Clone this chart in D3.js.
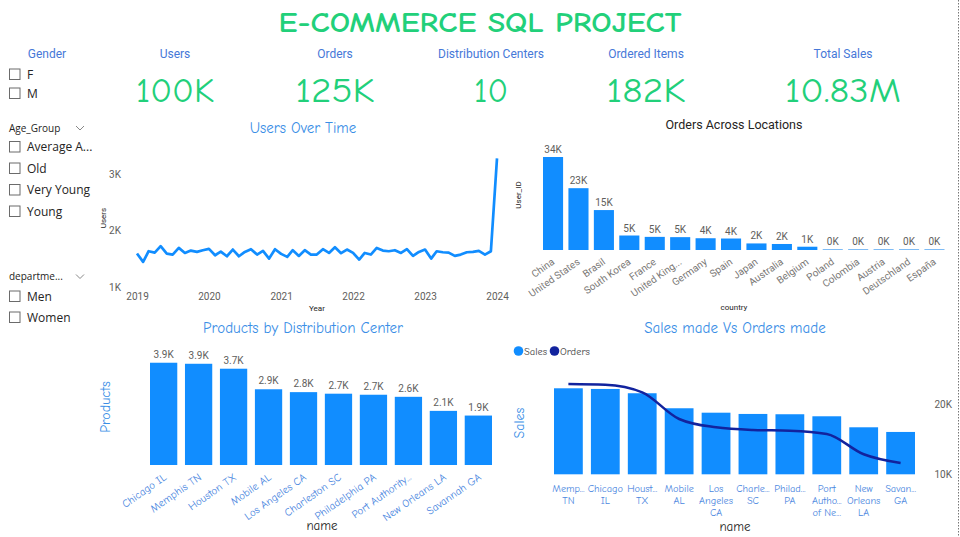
<!DOCTYPE html>
<html><head><meta charset="utf-8">
<script src="https://cdn.jsdelivr.net/npm/d3@7"></script>
<style>body{margin:0;background:#fff;} svg{display:block;font-family:"Open Sans","Noto Sans",sans-serif;}</style>
</head><body><svg id="c" width="960" height="537"></svg>
<script>
// ---------- DATA ----------
const titleText = "E-COMMERCE SQL PROJECT";
const kpiLabels = ["Users","Orders","Distribution Centers","Ordered Items","Total Sales"];
const kpiValues = ["100K","125K","10","182K","10.83M"];
const genderItems = ["F","M"];
const ageItems = ["Average A...","Old","Very Young","Young"];
const deptItems = ["Men","Women"];

const userStart = "2019-01";
const userCounts = [1592,1444,1633,1609,1722,1592,1574,1692,1603,1645,1621,1651,
  1675,1562,1627,1544,1663,1544,1621,1669,1574,1639,1503,1669,
  1586,1533,1651,1550,1651,1574,1574,1669,1603,1704,1598,1663,
  1603,1485,1603,1574,1692,1645,1633,1651,1603,1669,1550,1621,
  1663,1503,1633,1615,1609,1550,1574,1615,1621,1639,1574,1633,
  3278];
const userYears = [2019,2020,2021,2022,2023,2024];
const userTicks = [1000,2000,3000];

const countries = ["China","United States","Brasil","South Korea","France","United King...","Germany","Spain","Japan","Australia","Belgium","Poland","Colombia","Austria","Deutschland","España"];
const countryOrders = [34000,22600,14600,5300,4800,4700,4300,4200,2400,2200,1200,200,150,120,100,80];

const centers = ["Chicago IL","Memphis TN","Houston TX","Mobile AL","Los Angeles CA","Charleston SC","Philadelphia PA","Port Authority...","New Orleans LA","Savannah GA"];
const centerProducts = [3930,3890,3700,2910,2800,2740,2700,2620,2080,1900];

const salesCenters = [["Memp...","TN"],["Chicago","IL"],["Houst...","TX"],["Mobile","AL"],["Los","Angeles","CA"],["Charle...","SC"],["Philad...","PA"],["Port","Autho...","of Ne..."],["New","Orleans","LA"],["Savan...","GA"]];
const centerSales = [1438000,1427000,1355000,1104000,1030000,1009000,1004000,970000,786000,708000];
const centerOrders = [22900,22800,21710,17900,16710,16330,16230,15760,12860,11610];
const orderTicks = [10000,20000];

// ---------- STYLE ----------
const BLUE = "#118DFF", NAVY = "#12239E", GREEN = "#22d07a";
const LBLUE = "#4678d8", TBLUE = "#3a8ee6", GREY = "#605e5c", DARK = "#252423";
const COMIC = '"Comic Sans MS","Comic Neue","Noto Sans",sans-serif';
const DIN = '"Roboto","Open Sans",sans-serif';

const svg = d3.select("#c");
svg.append("rect").attr("width",960).attr("height",537).attr("fill","#fff");
svg.append("line").attr("x1",958.5).attr("x2",958.5).attr("y1",0).attr("y2",537)
  .attr("stroke","#777").attr("stroke-dasharray","1.5,1.5");

// Title
svg.append("text").attr("x",480).attr("y",32).attr("text-anchor","middle")
  .attr("font-family",COMIC).attr("font-weight","bold").attr("font-size",29)
  .attr("fill",GREEN).attr("textLength",403).attr("lengthAdjust","spacingAndGlyphs").text(titleText);

// KPIs
const kpiX = d3.scaleOrdinal().domain(kpiLabels).range([175,335,491,646,843]);
const kpiW = [78,79,34,79,116];
kpiLabels.forEach((k,i)=>{
  svg.append("text").attr("x",kpiX(k)).attr("y",58).attr("text-anchor","middle")
    .attr("font-family",DIN).attr("font-size",12).attr("fill",LBLUE).text(k);
  svg.append("text").attr("x",kpiX(k)).attr("y",102).attr("text-anchor","middle")
    .attr("font-family",COMIC).attr("font-size",35).attr("fill",GREEN)
    .attr("textLength",kpiW[i]).attr("lengthAdjust","spacingAndGlyphs").text(kpiValues[i]);
});

// Slicers
svg.append("text").attr("x",47).attr("y",58).attr("text-anchor","middle")
  .attr("font-family",DIN).attr("font-size",12).attr("fill",LBLUE).text("Gender");
function checklist(items, ys){
  items.forEach((t,i)=>{
    svg.append("rect").attr("x",9.5).attr("y",ys[i]-5).attr("width",10.5).attr("height",10.5)
      .attr("fill","#fff").attr("stroke","#6b6b6b").attr("stroke-width",1);
    svg.append("text").attr("x",27).attr("y",ys[i]+4.5).attr("font-size",12)
      .attr("font-family",'"Open Sans",sans-serif').attr("fill",DARK).text(t);
  });
}
checklist(genderItems,[74,93]);
function header(t,y){
  svg.append("text").attr("x",9).attr("y",y+3.5).attr("font-size",10).attr("fill",DARK).text(t);
  svg.append("path").attr("d",`M${76},${y-2} l4,4 l4,-4`).attr("fill","none").attr("stroke","#888").attr("stroke-width",1);
}
header("Age_Group",128);
checklist(ageItems,[146.5,168,189.5,211]);
header("departme...",276.5);
checklist(deptItems,[296,317]);

// ---------- Users Over Time ----------
{
  const parse = d3.timeParse("%Y-%m");
  const start = parse(userStart);
  const months = userCounts.map((_,i)=>d3.timeMonth.offset(start,i));
  const x = d3.scaleTime().domain([start, months[months.length-1]]).range([137,497]);
  const y = d3.scaleLinear().domain([1000,3000]).range([287,174]);
  svg.append("text").attr("x",303).attr("y",133).attr("text-anchor","middle")
    .attr("font-family",COMIC).attr("font-size",15).attr("fill",TBLUE).text("Users Over Time");
  const g = svg.append("g");
  const ya = g.append("g").attr("transform","translate(124,0)")
    .call(d3.axisLeft(y).tickValues(userTicks).tickFormat(d=>d/1000+"K").tickSize(0));
  ya.select(".domain").remove();
  ya.selectAll("text").attr("font-size",10).attr("fill",GREY).attr("font-family",DIN).attr("dx",0);
  const xa = g.append("g").attr("transform","translate(0,290)")
    .call(d3.axisBottom(x).tickValues(userYears.map(yr=>new Date(yr,0,1))).tickFormat(d3.timeFormat("%Y")).tickSize(0));
  xa.select(".domain").remove();
  xa.selectAll("text").attr("font-size",10).attr("fill",GREY).attr("font-family",DIN);
  g.append("path").datum(userCounts).attr("fill","none").attr("stroke",BLUE).attr("stroke-width",2.7)
    .attr("stroke-linejoin","round")
    .attr("d",d3.line().x((d,i)=>x(months[i])).y(d=>y(d)));
  g.append("text").attr("x",317).attr("y",311).attr("text-anchor","middle").attr("font-size",8)
    .attr("font-family",DIN).attr("fill",DARK).text("Year");
  g.append("text").attr("transform","translate(106,218) rotate(-90)").attr("text-anchor","middle")
    .attr("font-size",8).attr("font-family",DIN).attr("fill",DARK).text("Users");
}

// ---------- Orders Across Locations ----------
{
  const x = d3.scaleBand().domain(countries).range([543,944.5]).paddingInner(0.21).paddingOuter(0);
  const y = d3.scaleLinear().domain([0,40000]).range([250,140.6]);
  svg.append("text").attr("x",734).attr("y",129).attr("text-anchor","middle")
    .attr("font-family",DIN).attr("font-size",12.5).attr("fill",DARK).text("Orders Across Locations");
  const g = svg.append("g");
  g.selectAll("rect").data(countries).join("rect")
    .attr("x",d=>x(d)).attr("width",x.bandwidth())
    .attr("y",(d,i)=>Math.min(y(countryOrders[i]),249))
    .attr("height",(d,i)=>Math.max(250-y(countryOrders[i]),1))
    .attr("fill",(d,i)=>countryOrders[i]<1000?"#7fbcf5":BLUE);
  g.selectAll("text.lab").data(countries).join("text").attr("class","lab")
    .attr("x",d=>x(d)+x.bandwidth()/2).attr("y",(d,i)=>Math.min(y(countryOrders[i]),249)-4)
    .attr("text-anchor","middle").attr("font-size",10).attr("font-family",DIN).attr("fill",GREY)
    .text((d,i)=>Math.round(countryOrders[i]/1000)+"K");
  const xa = g.append("g").attr("transform","translate(0,250)")
    .call(d3.axisBottom(x).tickSize(0));
  xa.select(".domain").remove();
  xa.selectAll("text").attr("font-size",10).attr("fill","#7a7876").attr("font-family",DIN)
    .attr("text-anchor","end").attr("transform","translate(-3,6) rotate(-35)").attr("dy","0.6em");
  g.append("text").attr("x",734).attr("y",310).attr("text-anchor","middle").attr("font-size",8)
    .attr("font-family",DIN).attr("fill",DARK).text("country");
  g.append("text").attr("transform","translate(521,195) rotate(-90)").attr("text-anchor","middle")
    .attr("font-size",8).attr("font-family",DIN).attr("fill",DARK).text("User_ID");
}

// ---------- Products by Distribution Center ----------
{
  const x = d3.scaleBand().domain(centers).range([150,492]).paddingInner(0.22).paddingOuter(0);
  const y = d3.scaleLinear().domain([0,4500]).range([465,347.9]);
  svg.append("text").attr("x",303).attr("y",333).attr("text-anchor","middle")
    .attr("font-family",COMIC).attr("font-size",15).attr("fill",TBLUE).text("Products by Distribution Center");
  const g = svg.append("g");
  g.selectAll("rect").data(centers).join("rect")
    .attr("x",d=>x(d)).attr("width",x.bandwidth())
    .attr("y",(d,i)=>y(centerProducts[i])).attr("height",(d,i)=>465-y(centerProducts[i]))
    .attr("fill",BLUE);
  g.selectAll("text.lab").data(centers).join("text").attr("class","lab")
    .attr("x",d=>x(d)+x.bandwidth()/2).attr("y",(d,i)=>y(centerProducts[i])-5)
    .attr("text-anchor","middle").attr("font-size",10).attr("font-family",DIN).attr("fill",GREY)
    .text((d,i)=>(centerProducts[i]/1000).toFixed(1)+"K");
  const xa = g.append("g").attr("transform","translate(0,465)").call(d3.axisBottom(x).tickSize(0));
  xa.select(".domain").remove();
  xa.selectAll("text").attr("font-size",11).attr("fill","#4a86e0").attr("font-family",COMIC)
    .attr("text-anchor","end").attr("transform","translate(-2,6) rotate(-35)").attr("dy","0.6em");
  g.append("text").attr("x",322).attr("y",530).attr("text-anchor","middle").attr("font-size",13)
    .attr("font-family",COMIC).attr("fill",DARK).text("name");
  g.append("text").attr("transform","translate(110,407) rotate(-90)").attr("text-anchor","middle")
    .attr("font-size",14).attr("font-family",COMIC).attr("fill",TBLUE).text("Products");
}

// ---------- Sales made Vs Orders made ----------
{
  const keys = salesCenters.map(d=>d.join(" "));
  const x = d3.scaleBand().domain(keys).range([554,915]).paddingInner(0.22).paddingOuter(0);
  const yS = d3.scaleLinear().domain([0,1600000]).range([474.3,378.6]);
  const yO = d3.scaleLinear().domain([10000,20000]).range([474.3,404.3]);
  svg.append("text").attr("x",735).attr("y",333).attr("text-anchor","middle")
    .attr("font-family",COMIC).attr("font-size",15).attr("fill",TBLUE).text("Sales made Vs Orders made");
  // legend
  svg.append("circle").attr("cx",518.5).attr("cy",351).attr("r",4.8).attr("fill",BLUE);
  svg.append("text").attr("x",524).attr("y",354.5).attr("font-size",10.5).attr("font-family",COMIC).attr("fill","#444").text("Sales");
  svg.append("circle").attr("cx",554.5).attr("cy",351).attr("r",4.8).attr("fill",NAVY);
  svg.append("text").attr("x",560).attr("y",354.5).attr("font-size",10.5).attr("font-family",COMIC).attr("fill","#444").text("Orders");
  const g = svg.append("g");
  g.selectAll("rect").data(keys).join("rect")
    .attr("x",d=>x(d)).attr("width",x.bandwidth())
    .attr("y",(d,i)=>yS(centerSales[i])).attr("height",(d,i)=>474.3-yS(centerSales[i]))
    .attr("fill",BLUE);
  g.append("path").datum(centerOrders).attr("fill","none").attr("stroke",NAVY).attr("stroke-width",2.5)
    .attr("d",d3.line().curve(d3.curveMonotoneX).x((d,i)=>x(keys[i])+x.bandwidth()/2).y(d=>yO(d)));
  const ya = g.append("g").attr("transform","translate(955,0)")
    .call(d3.axisLeft(yO).tickValues(orderTicks).tickFormat(d=>d/1000+"K").tickSize(0));
  ya.select(".domain").remove();
  ya.selectAll("text").attr("font-size",10).attr("fill",GREY).attr("font-family",DIN);
  keys.forEach((k,i)=>{
    const t = g.append("text").attr("x",x(k)+x.bandwidth()/2).attr("y",492).attr("text-anchor","middle")
      .attr("font-size",10.3).attr("font-family",COMIC).attr("fill","#4a86e0");
    salesCenters[i].forEach((ln,j)=>t.append("tspan").attr("x",x(k)+x.bandwidth()/2).attr("dy",j?12:0).text(ln));
  });
  g.append("text").attr("x",735).attr("y",531).attr("text-anchor","middle").attr("font-size",13)
    .attr("font-family",COMIC).attr("fill",DARK).text("name");
  g.append("text").attr("transform","translate(524,423) rotate(-90)").attr("text-anchor","middle")
    .attr("font-size",14).attr("font-family",COMIC).attr("fill",TBLUE).text("Sales");
}
</script></body></html>
